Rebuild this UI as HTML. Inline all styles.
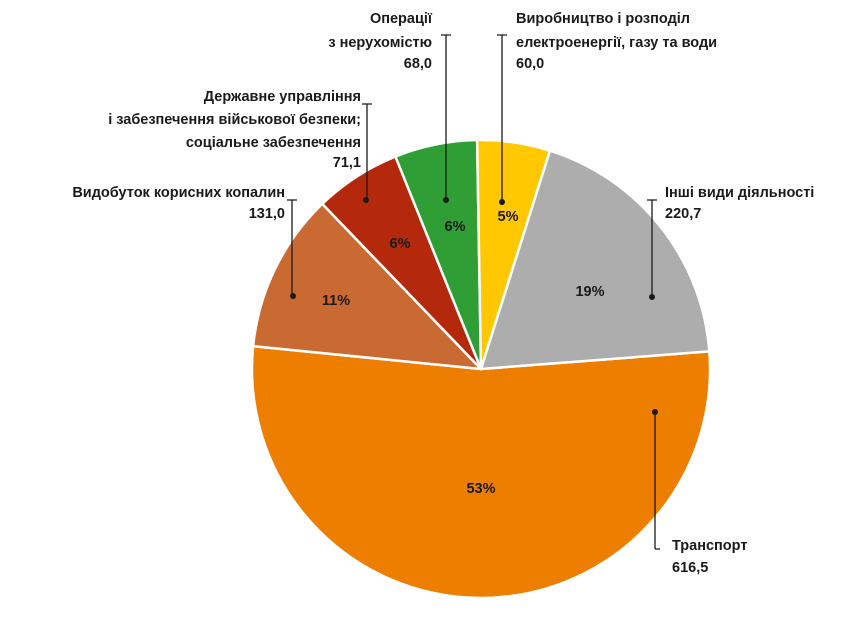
<!DOCTYPE html>
<html><head><meta charset="utf-8"><style>
body{margin:0;background:#fff;width:863px;height:612px;overflow:hidden}
svg text{font-family:"Liberation Sans",sans-serif;font-weight:bold;font-size:14.5px;fill:#1a1a1a}
</style></head><body>
<svg id="s" width="863" height="612" xmlns="http://www.w3.org/2000/svg">
<g id="pie"></g>
<g stroke="#1a1a1a" stroke-width="1.3" fill="none">
<path d="M446 35V200M441 35H451"/>
<path d="M502 35V202M497 35H507"/>
<path d="M367 104V200M362 104H372"/>
<path d="M292 200V296M287 200H297"/>
<path d="M652 200V297M647 200H657"/>
<path d="M655 412V549M655 549H660"/>
</g>
<g fill="#1a1a1a">
<circle cx="446" cy="200" r="3"/><circle cx="502" cy="202" r="3"/><circle cx="366" cy="200" r="3"/>
<circle cx="293" cy="296" r="3"/><circle cx="652" cy="297" r="3"/><circle cx="655" cy="412" r="3"/>
</g>
<g text-anchor="end">
<text x="432" y="23">Операції</text><text x="432" y="47">з нерухомістю</text><text x="432" y="68">68,0</text>
<text x="361" y="101">Державне управління</text><text x="361" y="124">і забезпечення військової безпеки;</text><text x="361" y="147">соціальне забезпечення</text><text x="361" y="167">71,1</text>
<text x="285" y="197">Видобуток корисних копалин</text><text x="285" y="218">131,0</text>
</g>
<text x="516" y="23">Виробництво і розподіл</text><text x="516" y="47">електроенергії, газу та води</text><text x="516" y="68">60,0</text>
<text x="665" y="197">Інші види діяльності</text><text x="665" y="218">220,7</text>
<text x="672" y="550">Транспорт</text><text x="672" y="572">616,5</text>
<g text-anchor="middle">
<text x="481" y="493">53%</text><text x="336" y="305">11%</text><text x="400" y="248">6%</text>
<text x="455" y="231">6%</text><text x="508" y="221">5%</text><text x="590" y="296">19%</text>
</g>
</svg>
<script>
var cx=481,cy=369,r=229,a=85.6;
var d=[[616.5,"#EE7E00"],[131,"#CA6A33"],[71.1,"#B4290B"],[68,"#2E9E35"],[60,"#FFC800"],[220.7,"#ADADAD"]];
var t=1167.3,g=document.getElementById("pie"),h="";
function p(x){var q=(x)*Math.PI/180;return (cx+r*Math.sin(q)).toFixed(2)+" "+(cy-r*Math.cos(q)).toFixed(2);}
d.forEach(function(s){var sw=s[0]/t*360,b=a+sw;
h+='<path d="M'+cx+' '+cy+' L'+p(a)+' A'+r+' '+r+' 0 '+(sw>180?1:0)+' 1 '+p(b)+' Z" fill="'+s[1]+'" stroke="#fff" stroke-width="2.5" stroke-linejoin="round"/>';a=b;});
g.innerHTML=h;
</script>
</body></html>
